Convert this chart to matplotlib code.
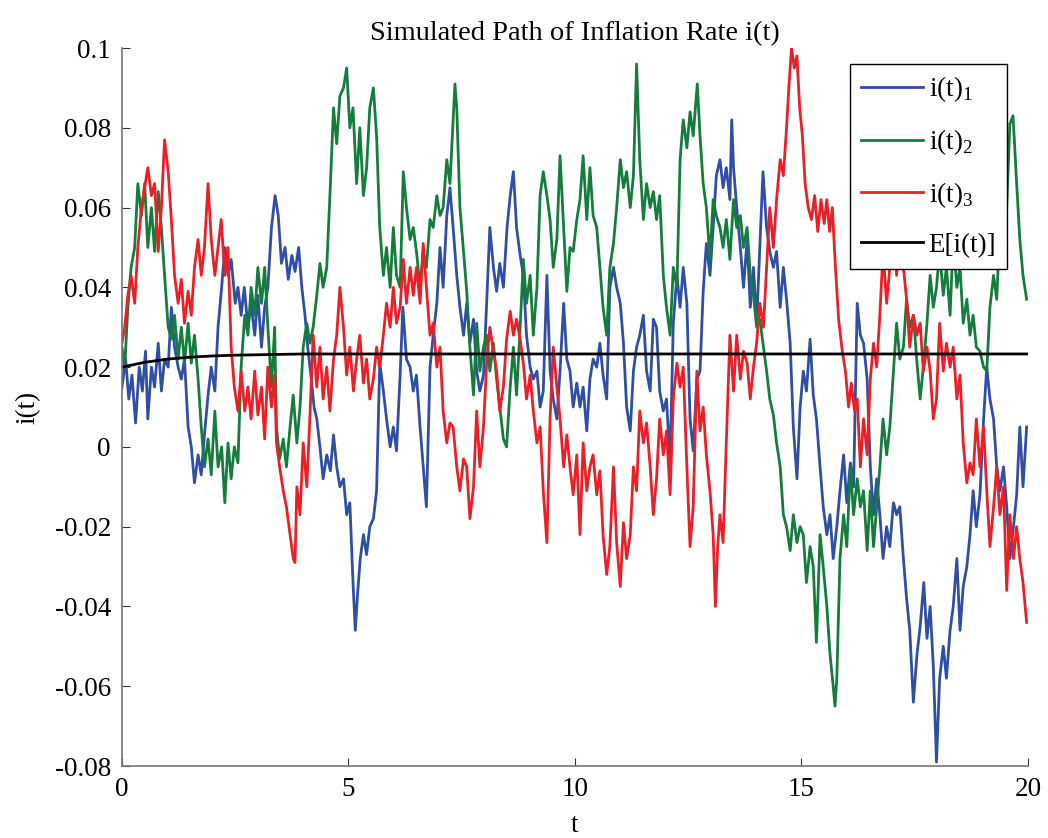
import numpy as np
import matplotlib
matplotlib.use("Agg")
import matplotlib.pyplot as plt

# (t, i) points, one array per path
path1 = np.array([
    (0.0, 0.015), (0.08, 0.022), (0.15, 0.012), (0.22, 0.018), (0.3, 0.006), (0.38, 0.02),
    (0.45, 0.014), (0.52, 0.024), (0.57, 0.007), (0.65, 0.02), (0.72, 0.015), (0.8, 0.026),
    (0.87, 0.014), (0.94, 0.022), (1.02, 0.02), (1.09, 0.035), (1.16, 0.025), (1.24, 0.02),
    (1.31, 0.017), (1.38, 0.022), (1.46, 0.005), (1.53, 0.0), (1.6, -0.009), (1.68, -0.002),
    (1.75, -0.007), (1.82, 0.003), (1.9, 0.013), (1.97, 0.02), (2.05, 0.014), (2.12, 0.03),
    (2.2, 0.04), (2.27, 0.05), (2.34, 0.043), (2.41, 0.047), (2.5, 0.036), (2.56, 0.04),
    (2.63, 0.033), (2.7, 0.04), (2.78, 0.03), (2.85, 0.036), (2.93, 0.028), (3.0, 0.038),
    (3.08, 0.025), (3.15, 0.035), (3.22, 0.04), (3.3, 0.055), (3.38, 0.063), (3.45, 0.058),
    (3.52, 0.046), (3.6, 0.05), (3.67, 0.042), (3.75, 0.048), (3.82, 0.044), (3.9, 0.05),
    (3.97, 0.04), (4.04, 0.033), (4.1, 0.025), (4.17, 0.018), (4.24, 0.01), (4.3, 0.007),
    (4.37, 0.0), (4.44, -0.008), (4.52, -0.002), (4.6, -0.006), (4.67, 0.003), (4.74, -0.005),
    (4.81, -0.01), (4.89, -0.008), (4.96, -0.017), (5.03, -0.014), (5.1, -0.034), (5.15, -0.046),
    (5.2, -0.037), (5.26, -0.028), (5.33, -0.022), (5.4, -0.027), (5.47, -0.02), (5.55, -0.018),
    (5.62, -0.011), (5.69, 0.021), (5.76, 0.015), (5.84, 0.007), (5.92, 0.0), (5.99, 0.005),
    (6.06, -0.001), (6.14, 0.018), (6.2, 0.035), (6.28, 0.022), (6.36, 0.02), (6.43, 0.014),
    (6.5, 0.018), (6.58, 0.005), (6.65, -0.005), (6.72, -0.015), (6.8, 0.02), (6.87, 0.028),
    (6.95, 0.036), (7.02, 0.05), (7.09, 0.04), (7.17, 0.058), (7.24, 0.065), (7.31, 0.055),
    (7.39, 0.043), (7.46, 0.035), (7.54, 0.028), (7.61, 0.036), (7.68, 0.026), (7.76, 0.032),
    (7.83, 0.019), (7.9, 0.014), (7.98, 0.018), (8.05, 0.036), (8.12, 0.055), (8.2, 0.045),
    (8.27, 0.039), (8.34, 0.046), (8.42, 0.04), (8.5, 0.055), (8.57, 0.063), (8.64, 0.069),
    (8.71, 0.055), (8.79, 0.048), (8.86, 0.043), (8.93, 0.028), (9.01, 0.02), (9.08, 0.017),
    (9.16, 0.019), (9.23, 0.01), (9.3, 0.014), (9.38, 0.043), (9.45, 0.019), (9.52, 0.012),
    (9.6, 0.007), (9.67, 0.019), (9.75, 0.036), (9.82, 0.022), (9.89, 0.019), (9.96, 0.01),
    (10.04, 0.016), (10.11, 0.01), (10.18, 0.015), (10.26, 0.004), (10.33, 0.017), (10.4, 0.022),
    (10.48, 0.02), (10.55, 0.026), (10.62, 0.018), (10.7, 0.012), (10.77, 0.04), (10.85, 0.045),
    (10.92, 0.04), (11.0, 0.036), (11.07, 0.026), (11.14, 0.01), (11.22, 0.004), (11.29, 0.019),
    (11.36, 0.025), (11.43, 0.028), (11.51, 0.033), (11.58, 0.019), (11.66, 0.014), (11.73, 0.032),
    (11.8, 0.03), (11.87, 0.014), (11.95, 0.009), (12.02, 0.012), (12.1, -0.004), (12.17, 0.031),
    (12.25, 0.043), (12.32, 0.035), (12.39, 0.045), (12.47, 0.036), (12.54, 0.007), (12.61, -0.001),
    (12.69, 0.017), (12.76, 0.019), (12.83, 0.039), (12.9, 0.051), (12.98, 0.043), (13.05, 0.055),
    (13.12, 0.068), (13.2, 0.072), (13.27, 0.065), (13.34, 0.07), (13.42, 0.062), (13.46, 0.082),
    (13.5, 0.07), (13.57, 0.06), (13.65, 0.05), (13.72, 0.04), (13.8, 0.052), (13.87, 0.035),
    (13.94, 0.045), (14.01, 0.031), (14.08, 0.05), (14.15, 0.069), (14.23, 0.055), (14.3, 0.049),
    (14.38, 0.045), (14.45, 0.049), (14.53, 0.035), (14.6, 0.045), (14.67, 0.037), (14.75, 0.026),
    (14.82, 0.005), (14.9, -0.008), (14.97, 0.01), (15.04, 0.019), (15.11, 0.014), (15.19, 0.027),
    (15.26, 0.013), (15.33, 0.007), (15.41, -0.005), (15.48, -0.015), (15.56, -0.022), (15.63, -0.017),
    (15.7, -0.028), (15.78, -0.02), (15.85, -0.011), (15.93, -0.002), (16.0, -0.014), (16.08, -0.004),
    (16.15, -0.01), (16.23, 0.036), (16.3, 0.028), (16.37, 0.026), (16.45, 0.017), (16.52, -0.005),
    (16.59, -0.017), (16.66, -0.008), (16.73, -0.017), (16.8, -0.028), (16.88, -0.02), (16.95, -0.025),
    (17.03, -0.014), (17.1, -0.017), (17.17, -0.015), (17.25, -0.028), (17.32, -0.038), (17.39, -0.046),
    (17.47, -0.064), (17.55, -0.052), (17.62, -0.045), (17.7, -0.034), (17.77, -0.048), (17.84, -0.04),
    (17.91, -0.055), (17.98, -0.079), (18.05, -0.058), (18.13, -0.05), (18.2, -0.058), (18.28, -0.046),
    (18.35, -0.04), (18.43, -0.028), (18.5, -0.046), (18.57, -0.035), (18.65, -0.03), (18.72, -0.022),
    (18.79, -0.011), (18.86, -0.02), (18.94, -0.012), (19.02, 0.007), (19.09, 0.02), (19.16, 0.012),
    (19.24, 0.007), (19.31, -0.005), (19.38, -0.011), (19.46, -0.005), (19.53, -0.015), (19.6, -0.028),
    (19.68, -0.02), (19.75, -0.012), (19.82, 0.005), (19.89, -0.01), (19.97, 0.005),
])

path2 = np.array([
    (0.0, 0.025), (0.06, 0.02), (0.13, 0.035), (0.2, 0.045), (0.28, 0.05), (0.35, 0.066),
    (0.43, 0.058), (0.5, 0.066), (0.57, 0.05), (0.65, 0.06), (0.72, 0.049), (0.8, 0.064),
    (0.87, 0.055), (0.94, 0.043), (1.02, 0.03), (1.09, 0.027), (1.16, 0.033), (1.24, 0.022),
    (1.31, 0.03), (1.38, 0.021), (1.46, 0.031), (1.53, 0.021), (1.6, 0.028), (1.68, 0.017),
    (1.75, 0.005), (1.82, -0.005), (1.9, 0.002), (1.97, -0.007), (2.05, 0.009), (2.12, -0.005),
    (2.2, 0.0), (2.27, -0.014), (2.34, 0.001), (2.41, -0.008), (2.48, 0.0), (2.56, -0.004),
    (2.63, 0.02), (2.71, 0.033), (2.78, 0.028), (2.85, 0.04), (2.93, 0.033), (3.0, 0.045),
    (3.08, 0.036), (3.15, 0.045), (3.22, 0.03), (3.3, 0.015), (3.37, 0.03), (3.41, 0.005),
    (3.48, -0.003), (3.56, 0.002), (3.63, -0.005), (3.71, 0.005), (3.78, 0.013), (3.86, 0.001),
    (3.93, 0.01), (4.0, 0.025), (4.08, 0.031), (4.15, 0.026), (4.22, 0.03), (4.3, 0.038),
    (4.37, 0.046), (4.44, 0.04), (4.52, 0.045), (4.59, 0.063), (4.67, 0.085), (4.74, 0.076),
    (4.81, 0.088), (4.89, 0.09), (4.96, 0.095), (5.03, 0.08), (5.1, 0.085), (5.18, 0.066),
    (5.25, 0.08), (5.33, 0.063), (5.4, 0.07), (5.47, 0.085), (5.55, 0.09), (5.62, 0.078),
    (5.69, 0.055), (5.77, 0.043), (5.84, 0.05), (5.92, 0.04), (5.99, 0.055), (6.06, 0.043),
    (6.14, 0.04), (6.21, 0.069), (6.28, 0.06), (6.36, 0.052), (6.43, 0.055), (6.5, 0.049),
    (6.58, 0.04), (6.65, 0.049), (6.72, 0.045), (6.8, 0.057), (6.87, 0.055), (6.95, 0.063),
    (7.02, 0.058), (7.09, 0.06), (7.17, 0.072), (7.24, 0.066), (7.31, 0.082), (7.35, 0.091),
    (7.39, 0.085), (7.46, 0.06), (7.54, 0.049), (7.61, 0.039), (7.68, 0.025), (7.76, 0.013),
    (7.83, 0.031), (7.9, 0.019), (7.98, 0.025), (8.05, 0.028), (8.12, 0.019), (8.2, 0.026),
    (8.27, 0.017), (8.34, 0.01), (8.42, 0.002), (8.49, 0.0), (8.57, 0.015), (8.64, 0.025),
    (8.71, 0.013), (8.79, 0.03), (8.86, 0.047), (8.93, 0.036), (9.01, 0.043), (9.08, 0.028),
    (9.16, 0.04), (9.23, 0.063), (9.3, 0.069), (9.38, 0.063), (9.45, 0.057), (9.52, 0.045),
    (9.6, 0.052), (9.67, 0.073), (9.75, 0.055), (9.82, 0.039), (9.89, 0.05), (9.96, 0.049),
    (10.04, 0.057), (10.11, 0.062), (10.18, 0.073), (10.26, 0.057), (10.33, 0.07), (10.4, 0.058),
    (10.48, 0.055), (10.55, 0.045), (10.62, 0.035), (10.7, 0.028), (10.77, 0.045), (10.85, 0.051),
    (10.92, 0.06), (11.0, 0.072), (11.07, 0.065), (11.14, 0.069), (11.22, 0.06), (11.29, 0.068),
    (11.36, 0.096), (11.43, 0.072), (11.51, 0.057), (11.58, 0.066), (11.66, 0.06), (11.73, 0.064),
    (11.8, 0.057), (11.87, 0.063), (11.95, 0.043), (12.02, 0.035), (12.1, 0.028), (12.17, 0.045),
    (12.25, 0.04), (12.32, 0.072), (12.39, 0.082), (12.47, 0.075), (12.54, 0.084), (12.61, 0.078),
    (12.7, 0.091), (12.76, 0.078), (12.83, 0.066), (12.9, 0.06), (12.98, 0.047), (13.05, 0.062),
    (13.12, 0.058), (13.2, 0.055), (13.27, 0.05), (13.34, 0.057), (13.42, 0.047), (13.5, 0.062),
    (13.57, 0.055), (13.65, 0.058), (13.72, 0.05), (13.8, 0.055), (13.87, 0.043), (13.94, 0.038),
    (14.01, 0.03), (14.08, 0.032), (14.16, 0.025), (14.23, 0.019), (14.3, 0.012), (14.38, 0.008),
    (14.45, 0.001), (14.53, -0.005), (14.6, -0.017), (14.67, -0.02), (14.75, -0.026), (14.82, -0.017),
    (14.9, -0.024), (14.97, -0.02), (15.04, -0.022), (15.11, -0.034), (15.19, -0.025), (15.26, -0.03),
    (15.33, -0.049), (15.41, -0.022), (15.48, -0.03), (15.56, -0.04), (15.63, -0.052), (15.7, -0.06),
    (15.74, -0.065), (15.78, -0.058), (15.85, -0.028), (15.93, -0.017), (16.0, -0.025), (16.08, -0.005),
    (16.15, -0.017), (16.23, -0.008), (16.3, -0.015), (16.37, -0.011), (16.45, -0.026), (16.52, -0.011),
    (16.59, -0.025), (16.66, -0.015), (16.73, -0.005), (16.8, 0.007), (16.88, -0.002), (16.95, 0.005),
    (17.03, 0.019), (17.1, 0.031), (17.17, 0.022), (17.25, 0.025), (17.32, 0.037), (17.39, 0.03),
    (17.47, 0.033), (17.55, 0.021), (17.62, 0.012), (17.69, 0.02), (17.77, 0.031), (17.84, 0.043),
    (17.91, 0.035), (17.98, 0.04), (18.05, 0.049), (18.13, 0.038), (18.2, 0.045), (18.28, 0.033),
    (18.35, 0.052), (18.43, 0.04), (18.5, 0.045), (18.57, 0.031), (18.65, 0.037), (18.72, 0.028),
    (18.79, 0.033), (18.86, 0.025), (18.94, 0.024), (19.02, 0.02), (19.09, 0.019), (19.16, 0.035),
    (19.24, 0.043), (19.31, 0.037), (19.38, 0.055), (19.46, 0.066), (19.53, 0.06), (19.6, 0.081),
    (19.67, 0.083), (19.75, 0.066), (19.82, 0.052), (19.89, 0.043), (19.97, 0.037),
])

path3 = np.array([
    (0.0, 0.026), (0.06, 0.03), (0.13, 0.038), (0.2, 0.043), (0.28, 0.036), (0.35, 0.05),
    (0.43, 0.06), (0.5, 0.065), (0.57, 0.07), (0.65, 0.063), (0.72, 0.066), (0.8, 0.049),
    (0.87, 0.06), (0.94, 0.077), (1.02, 0.069), (1.09, 0.057), (1.16, 0.043), (1.24, 0.036),
    (1.31, 0.042), (1.38, 0.031), (1.46, 0.039), (1.53, 0.033), (1.6, 0.045), (1.68, 0.052),
    (1.75, 0.043), (1.82, 0.05), (1.9, 0.066), (1.97, 0.052), (2.05, 0.043), (2.12, 0.05),
    (2.19, 0.057), (2.27, 0.043), (2.34, 0.05), (2.41, 0.025), (2.48, 0.015), (2.56, 0.009),
    (2.63, 0.019), (2.71, 0.009), (2.78, 0.015), (2.85, 0.007), (2.93, 0.019), (3.0, 0.008),
    (3.08, 0.015), (3.15, 0.002), (3.22, 0.02), (3.3, 0.01), (3.37, 0.018), (3.41, 0.001),
    (3.48, -0.005), (3.56, -0.011), (3.63, -0.015), (3.71, -0.022), (3.78, -0.028), (3.82, -0.029),
    (3.86, -0.01), (3.93, -0.017), (4.0, 0.001), (4.08, -0.01), (4.15, 0.008), (4.22, 0.028),
    (4.3, 0.015), (4.37, 0.025), (4.44, 0.012), (4.52, 0.02), (4.59, 0.009), (4.67, 0.022),
    (4.74, 0.028), (4.81, 0.04), (4.89, 0.03), (4.96, 0.018), (5.03, 0.025), (5.11, 0.014),
    (5.18, 0.022), (5.25, 0.028), (5.33, 0.016), (5.4, 0.022), (5.47, 0.012), (5.55, 0.017),
    (5.62, 0.025), (5.69, 0.02), (5.77, 0.028), (5.84, 0.036), (5.92, 0.03), (5.99, 0.04),
    (6.06, 0.031), (6.14, 0.035), (6.21, 0.047), (6.28, 0.036), (6.36, 0.045), (6.43, 0.038),
    (6.5, 0.045), (6.58, 0.036), (6.65, 0.051), (6.72, 0.04), (6.8, 0.028), (6.87, 0.031),
    (6.95, 0.02), (7.02, 0.025), (7.09, 0.009), (7.17, 0.001), (7.24, 0.006), (7.31, 0.005),
    (7.39, -0.005), (7.46, -0.011), (7.54, -0.003), (7.61, -0.005), (7.68, -0.018), (7.76, -0.01),
    (7.83, 0.009), (7.9, -0.005), (7.98, 0.005), (8.05, 0.021), (8.12, 0.03), (8.2, 0.024),
    (8.27, 0.019), (8.34, 0.009), (8.42, 0.015), (8.49, 0.027), (8.57, 0.034), (8.64, 0.028),
    (8.71, 0.032), (8.79, 0.027), (8.86, 0.021), (8.93, 0.012), (9.01, 0.018), (9.08, 0.009),
    (9.16, 0.001), (9.23, 0.005), (9.3, -0.011), (9.38, -0.024), (9.45, 0.007), (9.52, 0.025),
    (9.6, 0.015), (9.67, 0.007), (9.75, -0.005), (9.82, 0.003), (9.89, -0.005), (9.96, -0.012),
    (10.04, -0.002), (10.11, -0.022), (10.18, 0.001), (10.26, -0.011), (10.33, -0.005), (10.4, -0.002),
    (10.48, -0.012), (10.55, -0.006), (10.62, -0.022), (10.7, -0.032), (10.77, -0.025), (10.85, -0.005),
    (10.92, -0.024), (11.0, -0.035), (11.07, -0.019), (11.14, -0.028), (11.22, -0.022), (11.29, -0.005),
    (11.36, -0.011), (11.43, 0.009), (11.51, 0.001), (11.58, 0.006), (11.66, -0.005), (11.73, -0.017),
    (11.8, -0.008), (11.87, 0.007), (11.95, -0.002), (12.02, 0.004), (12.1, -0.012), (12.17, 0.012),
    (12.25, 0.021), (12.32, 0.015), (12.39, 0.02), (12.47, -0.005), (12.54, -0.025), (12.61, -0.015),
    (12.69, 0.019), (12.76, 0.004), (12.83, 0.01), (12.9, -0.002), (12.98, -0.011), (13.05, -0.022),
    (13.1, -0.04), (13.15, -0.025), (13.2, -0.017), (13.27, -0.024), (13.34, 0.001), (13.42, 0.028),
    (13.5, 0.014), (13.57, 0.028), (13.65, 0.017), (13.72, 0.024), (13.8, 0.021), (13.87, 0.012),
    (13.94, 0.02), (14.01, 0.026), (14.08, 0.036), (14.16, 0.03), (14.23, 0.045), (14.3, 0.06),
    (14.38, 0.05), (14.45, 0.062), (14.53, 0.072), (14.6, 0.068), (14.67, 0.08), (14.72, 0.09),
    (14.78, 0.1), (14.84, 0.095), (14.9, 0.098), (14.96, 0.085), (15.02, 0.078), (15.08, 0.066),
    (15.15, 0.06), (15.22, 0.057), (15.29, 0.063), (15.36, 0.054), (15.43, 0.062), (15.5, 0.056),
    (15.56, 0.062), (15.62, 0.054), (15.68, 0.06), (15.75, 0.045), (15.82, 0.032), (15.9, 0.024),
    (15.97, 0.019), (16.04, 0.01), (16.1, 0.016), (16.17, 0.009), (16.23, 0.012), (16.3, -0.005),
    (16.37, 0.007), (16.45, -0.002), (16.52, 0.017), (16.59, 0.026), (16.66, 0.02), (16.73, 0.033),
    (16.8, 0.049), (16.88, 0.036), (16.95, 0.045), (17.03, 0.06), (17.1, 0.043), (17.17, 0.055),
    (17.25, 0.045), (17.32, 0.037), (17.39, 0.025), (17.47, 0.033), (17.55, 0.028), (17.62, 0.031),
    (17.69, 0.019), (17.77, 0.025), (17.84, 0.019), (17.91, 0.007), (17.98, 0.012), (18.05, 0.031),
    (18.13, 0.019), (18.2, 0.026), (18.28, 0.02), (18.35, 0.025), (18.43, 0.012), (18.5, 0.018),
    (18.57, 0.001), (18.65, -0.009), (18.72, -0.004), (18.79, -0.007), (18.86, 0.007), (18.94, -0.005),
    (19.02, 0.005), (19.09, -0.011), (19.16, -0.025), (19.24, -0.015), (19.31, -0.005), (19.38, -0.017),
    (19.46, -0.01), (19.53, -0.036), (19.6, -0.017), (19.68, -0.028), (19.75, -0.02), (19.82, -0.028),
    (19.89, -0.034), (19.97, -0.044),
])

mean_t = [0, 0.5, 1.0, 1.5, 2.0, 2.5, 3.0, 4.0, 20.0]
mean_i = [0.020, 0.0212, 0.0220, 0.0225, 0.0228, 0.0230, 0.0231, 0.0233, 0.0233]

labels = [r'i(t)$_1$', r'i(t)$_2$', r'i(t)$_3$', 'E[i(t)]']
colors = ['#2f4fa6', '#147d3c', '#ed1f26', 'black']

plt.rcParams['font.family'] = ['Liberation Serif', 'DejaVu Serif']
plt.rcParams['mathtext.fontset'] = 'custom'
plt.rcParams['mathtext.rm'] = 'Liberation Serif'

fig = plt.figure(figsize=(10.48, 8.38), dpi=100)
ax = fig.add_axes([0.1164, 0.0859, 0.8645, 0.8568])

for p, c, lab in zip([path1, path2, path3], colors[:3], labels[:3]):
    ax.plot(p[:, 0], p[:, 1], color=c, lw=2.0, label=lab)
ax.plot(mean_t, mean_i, color='black', lw=2.0, label=labels[3])

ax.set_xlim(0, 20)
ax.set_ylim(-0.08, 0.1)
ax.set_xticks([0, 5, 10, 15, 20])
ax.set_yticks([-0.08, -0.06, -0.04, -0.02, 0, 0.02, 0.04, 0.06, 0.08, 0.1])
ax.set_yticklabels(['-0.08', '-0.06', '-0.04', '-0.02', '0', '0.02', '0.04', '0.06', '0.08', '0.1'])
ax.tick_params(direction='in', labelsize=19.5, length=6, color='#333333', pad=8)
ax.spines['top'].set_visible(False)
ax.spines['right'].set_visible(False)
ax.spines['left'].set_color('#777777')
ax.spines['bottom'].set_color('#777777')
ax.spines['left'].set_linewidth(1.2)
ax.spines['bottom'].set_linewidth(1.2)

ax.set_title('Simulated Path of Inflation Rate i(t)', fontsize=20.5, pad=6)
ax.set_xlabel('t', fontsize=19.5, labelpad=8)
ax.set_ylabel('i(t)', fontsize=19.5, labelpad=10)

leg = ax.legend(loc='upper right', fontsize=19.5, fancybox=False, framealpha=1,
                edgecolor='black', handlelength=2.3, handletextpad=0.2,
                labelspacing=0.85, borderaxespad=0.5, bbox_to_anchor=(0.992, 0.997))
leg.get_frame().set_linewidth(1.0)
for line in leg.get_lines():
    line.set_linewidth(2.0)

fig.savefig('out.png', dpi=100)
